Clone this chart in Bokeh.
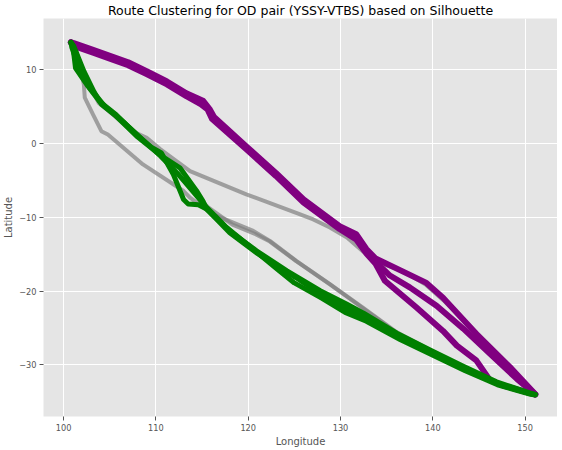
from bokeh.plotting import figure
from bokeh.models import Range1d, FixedTicker
from bokeh.embed import file_html
from bokeh.resources import INLINE

TITLE = "Route Clustering for OD pair (YSSY-VTBS) based on Silhouette"
X_LABEL = "Longitude"
Y_LABEL = "Latitude"

x_ticks = [100, 110, 120, 130, 140, 150]
x_tick_labels = ["100", "110", "120", "130", "140", "150"]
y_ticks = [-30, -20, -10, 0, 10]
y_tick_labels = ["\u221230", "\u221220", "\u221210", "0", "10"]

# ---- gray cluster ----
gray_1_lon = [100.8, 101.4, 102.2, 102.3, 103.2, 104.1, 104.8, 108.6, 113.0, 113.7, 116.2, 120.55, 122.35, 125.2, 128.85, 132.5, 136.1, 139.7, 143.3, 146.9, 151.1]
gray_1_lat = [13.7, 12.5, 8.0, 6.2, 3.9, 1.66, 1.2, -2.84, -6.45, -7.35, -9.6, -11.85, -13.2, -15.9, -19.05, -22.3, -25.6, -28.0, -30.3, -32.4, -34.0]

gray_2_lon = [100.8, 101.2, 102.4, 103.8, 105.7, 107.9, 109.0, 110.5, 113.7, 119.8, 125.2, 127.05, 128.85, 130.7, 132.5, 134.6, 136.8, 139.3, 141.1, 144.7, 148.35, 151.1]
gray_2_lat = [13.7, 12.8, 9.0, 5.5, 3.6, 1.4, 0.76, -0.8, -3.74, -6.9, -9.4, -10.3, -11.4, -12.75, -14.7, -16.35, -17.3, -19.2, -21.2, -25.6, -30.2, -34.0]

gray_3_lon = [100.8, 101.1, 102.3, 104.0, 107.9, 110.4, 113.0, 115.6, 118.3, 120.8, 122.35, 125.2, 128.85, 132.5, 136.1, 139.7, 143.3, 146.9, 151.1]
gray_3_lat = [13.7, 13.0, 9.2, 5.4, 1.1, -1.5, -5.0, -8.6, -11.0, -12.3, -13.3, -15.95, -19.1, -22.4, -25.7, -28.1, -30.4, -32.45, -34.0]

# ---- purple cluster ----
purple_1_lon = [100.8, 101.1, 103.2, 105.4, 107.0, 109.0, 111.2, 113.3, 115.1, 115.8, 116.3, 119.8, 123.0, 126.0, 129.9, 131.7, 132.8, 133.8, 136.5, 139.3, 141.1, 144.7, 148.35, 151.1]
purple_1_lat = [13.7, 13.6, 12.7, 11.7, 11.0, 9.8, 8.4, 6.8, 5.8, 4.7, 3.6, -0.4, -4.0, -7.6, -11.2, -12.3, -14.3, -15.6, -17.2, -18.9, -20.9, -25.8, -30.3, -34.0]

purple_2_lon = [100.8, 101.1, 103.2, 105.4, 107.0, 109.0, 111.2, 113.3, 114.9, 115.6, 116.2, 119.8, 123.0, 126.0, 129.9, 131.7, 132.8, 133.6, 135.35, 137.5, 140.4, 143.3, 146.2, 149.1, 151.1]
purple_2_lat = [13.7, 13.4, 12.5, 11.5, 10.8, 9.6, 8.2, 6.6, 5.6, 4.8, 3.5, -0.6, -4.2, -7.8, -11.4, -12.6, -14.6, -15.8, -17.9, -19.5, -22.0, -25.1, -28.5, -31.9, -34.0]

purple_3_lon = [100.8, 101.1, 103.2, 105.4, 107.0, 109.0, 111.2, 113.3, 114.9, 115.6, 116.1, 119.8, 123.0, 126.0, 129.9, 131.7, 132.8, 133.8, 134.8, 138.2, 141.1, 142.6, 144.7, 146.2, 147.6, 151.0]
purple_3_lat = [13.7, 13.2, 12.3, 11.3, 10.6, 9.4, 8.0, 6.4, 5.3, 4.6, 3.3, -0.8, -4.4, -8.0, -11.6, -13.0, -14.9, -16.3, -18.6, -22.2, -25.4, -27.4, -29.4, -32.1, -32.8, -34.0]

# ---- green cluster ----
green_1_lon = [100.8, 101.0, 101.3, 102.5, 103.9, 105.7, 107.9, 109.5, 110.6, 111.9, 113.0, 113.5, 114.6, 115.5, 118.0, 120.9, 124.2, 127.8, 130.7, 132.5, 136.1, 139.7, 143.3, 146.9, 150.5, 151.1]
green_1_lat = [13.7, 13.3, 10.2, 8.0, 5.7, 3.9, 1.2, -0.5, -1.3, -4.2, -7.6, -8.2, -8.3, -8.9, -11.85, -14.55, -17.26, -19.96, -21.8, -23.0, -25.7, -28.0, -30.2, -32.3, -33.8, -34.0]

green_2_lon = [100.8, 101.1, 102.2, 103.3, 104.1, 105.7, 107.9, 110.4, 112.6, 114.4, 115.1, 115.5, 118.0, 121.0, 122.7, 125.2, 127.8, 130.7, 132.5, 136.1, 139.7, 143.3, 146.9, 150.5, 151.1]
green_2_lat = [13.7, 13.2, 9.8, 7.0, 5.3, 3.7, 1.0, -1.5, -3.3, -6.4, -7.8, -8.9, -12.1, -14.9, -16.3, -18.2, -20.4, -22.4, -23.5, -26.0, -28.3, -30.5, -32.5, -33.9, -34.0]

green_3_lon = [100.8, 100.9, 101.5, 102.8, 104.5, 106.5, 108.5, 110.5, 112.3, 113.8, 115.3, 117.5, 120.5, 123.0, 125.0, 128.0, 130.5, 132.8, 136.5, 140.0, 143.5, 147.0, 150.6, 151.1]
green_3_lat = [13.7, 13.0, 10.8, 7.6, 5.0, 2.9, 0.6, -1.7, -4.0, -6.2, -8.4, -11.2, -14.3, -16.9, -18.9, -21.0, -22.9, -24.1, -26.6, -28.7, -30.8, -32.7, -34.0, -34.1]

gray_routes = [(gray_1_lon, gray_1_lat), (gray_2_lon, gray_2_lat), (gray_3_lon, gray_3_lat)]
purple_routes = [(purple_1_lon, purple_1_lat), (purple_2_lon, purple_2_lat), (purple_3_lon, purple_3_lat)]
green_routes = [(green_1_lon, green_1_lat), (green_2_lon, green_2_lat), (green_3_lon, green_3_lat)]

FONT = "DejaVu Sans"

p = figure(frame_width=514, frame_height=398, output_backend="svg", toolbar_location=None,
           x_range=Range1d(97.83, 153.5), y_range=Range1d(-37.0, 16.93),
           title=TITLE, min_border_left=0, min_border_right=0,
           min_border_top=0, min_border_bottom=0)

p.background_fill_color = "#E5E5E5"
p.border_fill_color = "white"
p.outline_line_color = None

p.title.text_font = FONT
p.title.text_font_size = "12.5px"
p.title.text_font_style = "normal"
p.title.text_color = "black"
p.title.align = "center"
p.title.standoff = 1
p.title.offset = 0

for ax in (p.xaxis[0], p.yaxis[0]):
    ax.axis_line_color = None
    ax.major_tick_line_color = "#555555"
    ax.major_tick_out = 4
    ax.major_tick_in = 0
    ax.minor_tick_line_color = None
    ax.major_label_text_font = FONT
    ax.major_label_text_font_size = "8.2px"
    ax.major_label_text_color = "#555555"
    ax.major_label_standoff = 3
    ax.axis_label_text_font = FONT
    ax.axis_label_text_font_size = "10px"
    ax.axis_label_text_color = "#555555"
    ax.axis_label_text_font_style = "normal"
    ax.axis_label_standoff = 2

p.xaxis[0].ticker = FixedTicker(ticks=x_ticks)
p.xaxis[0].major_label_overrides = {t: s for t, s in zip(x_ticks, x_tick_labels)}
p.yaxis[0].ticker = FixedTicker(ticks=y_ticks)
p.yaxis[0].major_label_overrides = {t: s for t, s in zip(y_ticks, y_tick_labels)}
p.xaxis[0].axis_label = X_LABEL
p.yaxis[0].axis_label = Y_LABEL

p.xgrid.grid_line_color = "white"
p.ygrid.grid_line_color = "white"
p.xgrid.grid_line_width = 1
p.ygrid.grid_line_width = 1

for lon, lat in gray_routes:
    p.line(lon, lat, line_color="gray", line_alpha=0.7, line_width=4,
           line_join="round", line_cap="round")
for lon, lat in purple_routes:
    p.line(lon, lat, line_color="purple", line_width=6,
           line_join="round", line_cap="round")
for lon, lat in green_routes:
    p.line(lon, lat, line_color="green", line_width=5,
           line_join="round", line_cap="round")

open("out.html", "w").write(file_html(p, INLINE))
